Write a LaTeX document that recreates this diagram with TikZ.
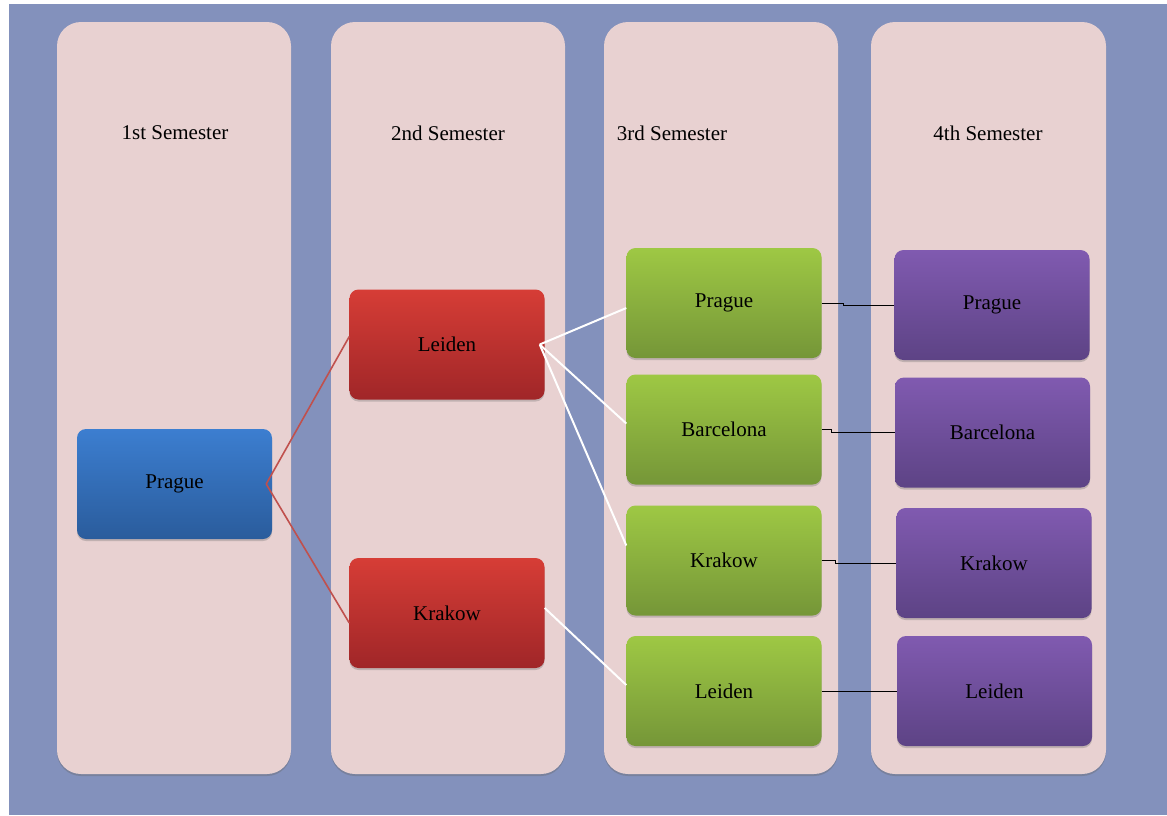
\documentclass[tikz,border=0pt]{standalone}
\usepackage{fontspec}
\setmainfont{Liberation Serif}
\usetikzlibrary{shadows}
\definecolor{bgblue}{HTML}{8391BC}
\definecolor{colpink}{HTML}{E8D1D1}
\definecolor{redline}{HTML}{C0504D}
\tikzset{
  x=1pt, y=-1pt,
  column/.style={fill=colpink, rounded corners=24pt,
    drop shadow={shadow xshift=0pt, shadow yshift=-2pt, opacity=0.35, fill=black!60}},
  box/.style={rounded corners=9pt, minimum width=195pt, minimum height=110pt, inner sep=0pt,
    font=\fontsize{21}{25}\selectfont, text=black,
    drop shadow={shadow xshift=0pt, shadow yshift=-2pt, opacity=0.3, fill=black!60}},
  bluebox/.style={box, top color={rgb,255:red,60;green,126;blue,208}, bottom color={rgb,255:red,42;green,92;blue,156}},
  redbox/.style={box, top color={rgb,255:red,214;green,61;blue,54}, bottom color={rgb,255:red,160;green,38;blue,40}},
  greenbox/.style={box, top color={rgb,255:red,158;green,200;blue,68}, bottom color={rgb,255:red,117;green,150;blue,56}},
  purplebox/.style={box, top color={rgb,255:red,128;green,90;blue,176}, bottom color={rgb,255:red,93;green,67;blue,133}},
  semlabel/.style={font=\fontsize{21}{25}\selectfont, text=black, inner sep=0pt},
  redconn/.style={draw=redline, line width=1.6pt},
  whiteconn/.style={draw=white, line width=2pt},
  blackconn/.style={draw=black, line width=1pt},
}
\begin{document}
\begin{tikzpicture}
\useasboundingbox (0,0) rectangle (1167,815);
\fill[white] (0,0) rectangle (1167,815);
\fill[bgblue] (9,4) rectangle (1167,815);
% columns
\path[column] (57,22) rectangle (291,774);
\path[column] (331,22) rectangle (565,774);
\path[column] (604,22) rectangle (838,774);
\path[column] (871,22) rectangle (1106,774);
% semester labels
\node[semlabel] (s1) at (175,133) {1st Semester};
\node[semlabel] (s2) at (448,133) {2nd Semester};
\node[semlabel] (s3) at (672,133) {3rd Semester};
\node[semlabel] (s4) at (988,133) {4th Semester};
% boxes
\node[bluebox] (p1) at (174.5,484) {Prague};
\node[redbox] (l2) at (447,344.5) {Leiden};
\node[redbox] (k2) at (447,613) {Krakow};
\node[greenbox] (p3) at (724,303) {Prague};
\node[greenbox] (b3) at (724,429.5) {Barcelona};
\node[greenbox] (k3) at (724,560.5) {Krakow};
\node[greenbox] (l3) at (724,691) {Leiden};
\node[purplebox] (p4) at (992,305) {Prague};
\node[purplebox] (b4) at (992.5,432.5) {Barcelona};
\node[purplebox] (k4) at (994,563) {Krakow};
\node[purplebox] (l4) at (994.5,691) {Leiden};
% connectors
\coordinate (p1c) at ([xshift=-6pt]p1.east);
\draw[redconn] (p1c) -- ([yshift=8pt]l2.west);
\draw[redconn] (p1c) -- ([yshift=-10pt]k2.west);
\coordinate (l2c) at ([xshift=-5pt]l2.east);
\draw[whiteconn] (l2c) -- ([yshift=-5pt]p3.west);
\draw[whiteconn] (l2c) -- ([yshift=6pt]b3.west);
\draw[whiteconn] (l2c) -- ([yshift=15pt]k3.west);
\draw[whiteconn] ([yshift=5pt]k2.east) -- ([yshift=6pt]l3.west);
\draw[blackconn] (p3.east) -- ++(22,0) |- (p4.west);
\draw[blackconn] (b3.east) -- ++(10,0) |- ([xshift=-16pt]b4.west) -- (b4.west);
\draw[blackconn] (k3.east) -- ++(14,0) |- ([xshift=-18pt]k4.west) -- (k4.west);
\draw[blackconn] (l3.east) -- (l4.west);
\end{tikzpicture}
\end{document}
